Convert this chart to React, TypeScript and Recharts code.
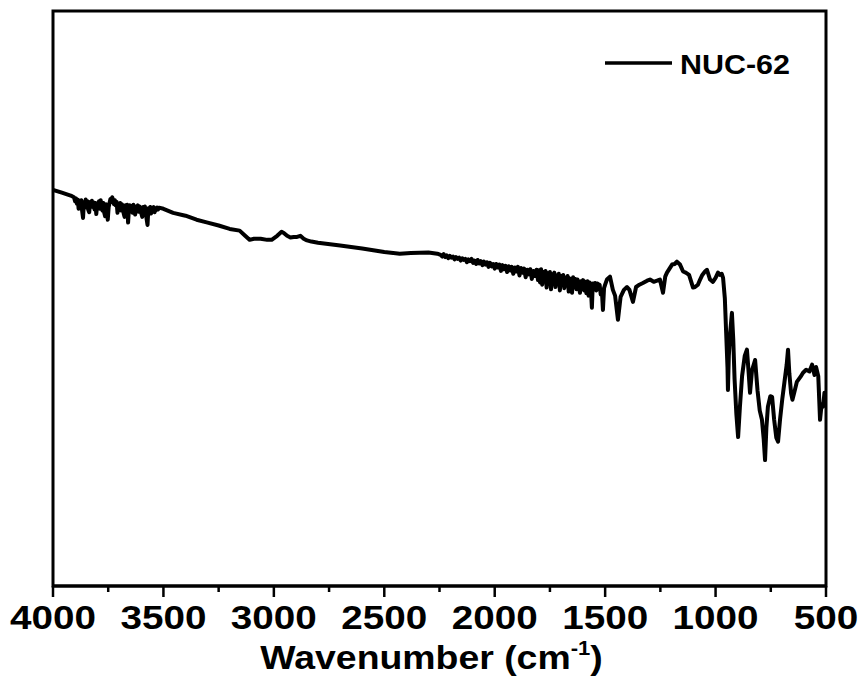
import React from "react";
import {
  LineChart,
  Line,
  XAxis,
  YAxis,
  Legend,
  ReferenceArea,
} from "recharts";

// FT-IR spectrum of NUC-62, [wavenumber cm^-1, transmittance %]
const highRegion: [number, number][] = [
  [4000, 68.9], [3960, 68.4], [3920, 67.9], [3905, 67.6], [3900, 66.9], [3896, 67.4],
  [3892, 66.5], [3888, 67.2], [3884, 65.6], [3880, 67.0], [3876, 66.2], [3872, 67.1],
  [3868, 65.2], [3864, 64.0], [3860, 66.8], [3856, 66.0], [3852, 67.2], [3848, 65.8],
  [3844, 66.9], [3840, 65.4], [3836, 65.0], [3832, 66.8], [3828, 66.1], [3824, 67.0],
  [3820, 65.9], [3816, 66.7], [3812, 65.5], [3808, 66.6], [3804, 64.7], [3800, 66.4],
  [3796, 65.8], [3792, 66.9], [3788, 65.6], [3784, 67.1], [3780, 66.0], [3776, 65.3],
  [3772, 66.6], [3768, 64.9], [3764, 64.3], [3760, 66.4], [3756, 65.5], [3752, 63.7],
  [3748, 65.9], [3744, 66.6], [3740, 67.3], [3736, 66.8], [3732, 67.6], [3728, 67.2],
  [3724, 66.4], [3720, 67.1], [3716, 66.2], [3712, 66.8], [3708, 64.9], [3704, 66.3],
  [3700, 65.7], [3696, 66.6], [3692, 65.3], [3688, 66.4], [3684, 65.9], [3680, 64.8],
  [3676, 64.2], [3672, 66.2], [3668, 65.6], [3664, 66.3], [3660, 63.2], [3656, 65.8],
  [3652, 66.2], [3648, 65.2], [3644, 66.0], [3640, 64.9], [3636, 66.3], [3632, 65.4],
  [3628, 64.6], [3624, 66.0], [3620, 65.5], [3616, 66.2], [3612, 65.1], [3608, 66.0],
  [3604, 65.6], [3600, 64.8], [3596, 64.2], [3592, 65.9], [3588, 65.3], [3584, 66.0],
  [3580, 64.9], [3576, 63.8], [3572, 62.8], [3568, 65.7], [3564, 65.2], [3560, 65.9],
  [3556, 64.8], [3552, 65.8], [3548, 65.3], [3544, 65.9], [3540, 65.0], [3536, 65.7],
  [3532, 65.4], [3528, 65.8], [3524, 65.5], [3520, 65.8],
];

const midRegion: [number, number][] = [
  [3500, 65.6], [3456, 64.9], [3400, 64.4], [3350, 63.7], [3300, 63.2], [3250, 62.7],
  [3200, 62.1], [3155, 61.8], [3130, 60.9], [3110, 60.2], [3090, 60.4], [3060, 60.4],
  [3030, 60.2], [3010, 60.2], [2985, 60.9], [2965, 61.6], [2955, 61.4], [2940, 60.9],
  [2925, 60.6], [2910, 60.7], [2895, 60.7], [2880, 60.9], [2865, 60.4], [2850, 60.1],
  [2830, 59.9], [2800, 59.7], [2700, 59.2], [2600, 58.7], [2500, 58.1], [2430, 57.8],
  [2380, 57.9], [2300, 58.0], [2260, 57.8],
];

const overtoneRegion: [number, number][] = [
  [2245, 57.6], [2238, 57.3], [2231, 57.7], [2224, 57.2], [2217, 57.5], [2210, 57.0],
  [2203, 57.4], [2196, 57.1], [2189, 57.3], [2182, 56.8], [2175, 57.2], [2168, 56.9],
  [2161, 57.1], [2154, 56.6], [2147, 57.0], [2140, 56.7], [2133, 56.9], [2126, 56.3],
  [2119, 56.8], [2112, 56.5], [2105, 56.9], [2098, 56.2], [2091, 56.6], [2084, 56.0],
  [2077, 56.7], [2070, 56.1], [2063, 56.5], [2056, 55.8], [2049, 56.4], [2042, 55.9],
  [2035, 56.3], [2028, 55.5], [2021, 56.2], [2014, 55.6], [2007, 56.0], [2000, 55.2],
  [1993, 56.0], [1986, 55.4], [1979, 55.9], [1972, 54.8], [1965, 55.8], [1958, 55.1],
  [1951, 55.7], [1944, 54.6], [1937, 55.6], [1930, 54.9], [1923, 55.5], [1916, 54.3],
  [1909, 55.4], [1902, 54.7], [1895, 55.5], [1888, 54.0], [1881, 55.3], [1874, 54.5],
  [1867, 55.2], [1860, 53.7], [1853, 55.0], [1846, 54.2], [1839, 55.1], [1832, 53.4],
  [1825, 54.8], [1818, 53.9], [1811, 55.0], [1804, 53.2],
];

const doubleBondRegion: [number, number][] = [
  [1800, 54.9], [1795, 52.8], [1790, 55.1], [1785, 52.4], [1780, 54.6], [1775, 53.2],
  [1770, 54.8], [1765, 51.9], [1760, 54.4], [1755, 52.9], [1750, 54.6], [1745, 51.6],
  [1740, 54.2], [1735, 52.6], [1730, 54.5], [1725, 52.0], [1720, 54.0], [1715, 53.0],
  [1710, 54.3], [1705, 51.4], [1700, 53.9], [1695, 52.5], [1690, 54.1], [1685, 51.8],
  [1680, 53.6], [1675, 52.4], [1670, 53.9], [1665, 51.2], [1660, 53.5], [1655, 52.3],
  [1650, 51.0], [1645, 53.7], [1640, 52.0], [1635, 53.4], [1630, 51.6], [1625, 53.3],
  [1620, 52.2], [1614, 51.0], [1610, 53.0], [1605, 52.1], [1600, 53.2], [1595, 51.4],
  [1590, 52.9], [1585, 50.9], [1580, 53.0], [1575, 50.5], [1570, 52.8], [1565, 52.0],
  [1560, 48.4], [1556, 52.6], [1552, 51.8], [1546, 52.7], [1540, 51.4], [1535, 52.6],
  [1530, 52.0], [1525, 52.4], [1520, 50.7], [1515, 51.5], [1510, 48.0], [1505, 51.8],
  [1500, 52.4], [1492, 53.3], [1478, 53.8], [1465, 51.5], [1455, 50.5], [1442, 46.3],
  [1430, 50.3], [1415, 51.5], [1401, 52.0], [1390, 51.5], [1374, 49.4], [1360, 52.0],
  [1345, 52.4], [1329, 52.7], [1310, 53.1], [1297, 53.3], [1280, 52.9], [1265, 53.1],
  [1252, 53.3], [1238, 51.0], [1228, 53.8], [1220, 54.5], [1197, 55.9], [1185, 56.0],
  [1175, 56.4], [1161, 55.9], [1147, 54.7], [1135, 54.5], [1120, 54.1], [1102, 51.9],
  [1093, 52.0], [1080, 52.4], [1070, 53.3], [1060, 54.1], [1048, 54.7], [1039, 55.0],
  [1025, 53.3], [1012, 52.9], [1000, 53.6], [989, 54.5], [980, 54.1], [972, 54.3],
  [966, 53.6],
];

const fingerprintRegion: [number, number][] = [
  [958, 50.0], [952, 44.0], [946, 38.0], [944, 34.1], [940, 40.0], [934, 44.0],
  [926, 47.5], [920, 43.0], [914, 36.0], [906, 30.0], [898, 25.9], [890, 31.0],
  [880, 36.5], [868, 40.0], [858, 41.1], [850, 37.0], [844, 33.6], [835, 37.5],
  [821, 39.3], [810, 34.0], [800, 30.5], [790, 28.9], [782, 25.5], [776, 21.9],
  [770, 27.5], [763, 31.2], [752, 33.0], [744, 32.9], [735, 29.0], [725, 25.8],
  [717, 25.1], [708, 29.0], [698, 32.5], [688, 35.5], [678, 38.5], [672, 41.1],
  [666, 37.0], [658, 33.5], [652, 32.4], [644, 33.6], [632, 35.5], [615, 36.4],
  [604, 37.1], [590, 37.6], [575, 37.3], [563, 38.5], [552, 36.7], [545, 38.1],
  [535, 36.5], [527, 28.9], [520, 31.5], [513, 31.2], [507, 33.6], [500, 33.2],
];

const waveTicks = [4000, 3750, 3500, 3250, 3000, 2750, 2500, 2250, 2000, 1750, 1500, 1250, 1000, 750, 500];

const spectrum = [
  ...highRegion,
  ...midRegion,
  ...overtoneRegion,
  ...doubleBondRegion,
  ...fingerprintRegion,
].map(([wavenumber, transmittance]) => ({ wavenumber, transmittance }));

const FONT = "'Liberation Sans', Arial, Helvetica, sans-serif";

// major ticks every 500 with a label, minor ticks halfway between
const WaveTick = (props: any) => {
  const { x, y, payload } = props;
  const major = payload.value % 500 === 0;
  const label = String(payload.value);
  return (
    <g>
      <line x1={x} x2={x} y1={y} y2={y + (major ? 11 : 6)} stroke="#000" strokeWidth={2.5} />
      {major && (
        <text
          x={x}
          y={y + 43}
          textAnchor="middle"
          fontSize={33}
          fontWeight="bold"
          fontFamily={FONT}
          fill="#000"
          textLength={label.length * 21.5}
          lengthAdjust="spacingAndGlyphs"
        >
          {label}
        </text>
      )}
    </g>
  );
};

const AxisTitle = (props: any) => {
  const { viewBox } = props;
  if (!viewBox) return null;
  const cx = viewBox.x + viewBox.width / 2 - 8;
  return (
    <g transform={`translate(${cx} ${viewBox.y + 83}) scale(1.1 1)`}>
      <text x={0} y={0} textAnchor="middle" fontSize={34} fontWeight="bold" fontFamily={FONT} fill="#000">
        Wavenumber (cm
        <tspan dy={-14} fontSize={20}>-1</tspan>
        <tspan dy={14}>)</tspan>
      </text>
    </g>
  );
};

const SeriesKey = () => (
  <svg width={200} height={40}>
    <line x1={0} x2={67} y1={17} y2={17} stroke="#000" strokeWidth={3.5} />
    <text
      x={75}
      y={28}
      fontSize={28}
      fontWeight="bold"
      fontFamily={FONT}
      fill="#000"
      textLength={110}
      lengthAdjust="spacingAndGlyphs"
    >
      NUC-62
    </text>
  </svg>
);

export default function App() {
  return (
    <div style={{ position: "absolute", left: 0, top: 0, width: 861, height: 686, background: "#fff" }}>
      <LineChart
        width={861}
        height={686}
        data={spectrum}
        margin={{ top: 11, right: 35, bottom: 0, left: 53 }}
      >
        <XAxis
          dataKey="wavenumber"
          type="number"
          domain={[500, 4000]}
          reversed
          ticks={waveTicks}
          interval={0}
          height={100}
          tickSize={0}
          tickMargin={0}
          tickLine={false}
          axisLine={{ stroke: "#000", strokeWidth: 3 }}
          tick={<WaveTick />}
          label={<AxisTitle />}
          allowDataOverflow
        />
        <YAxis type="number" domain={[0, 100]} hide />
        {/* plot frame */}
        <ReferenceArea x1={4000} x2={500} y1={0} y2={100} fill="none" stroke="#000" strokeWidth={3} />
        <Legend
          layout="horizontal"
          verticalAlign="middle"
          align="center"
          content={<SeriesKey />}
          wrapperStyle={{ position: "absolute", left: 605, top: 46, width: 200, height: 40 }}
        />
        <Line
          dataKey="transmittance"
          name="NUC-62"
          type="linear"
          stroke="#000"
          strokeWidth={4}
          strokeLinejoin="round"
          dot={false}
          isAnimationActive={false}
        />
      </LineChart>
    </div>
  );
}
